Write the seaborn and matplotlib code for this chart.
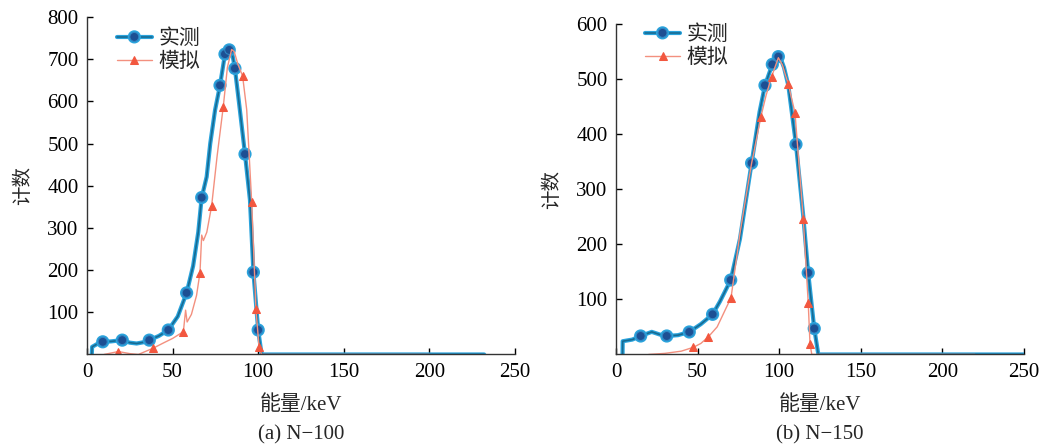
import matplotlib
matplotlib.use("Agg")
import matplotlib.pyplot as plt
import matplotlib.patheffects as pe
import seaborn as sns
import pandas as pd

# ---- N-100 spectrum ----
n100_meas_energy = [2.8, 3, 6, 9.2, 14, 20.6, 25, 29, 33, 36.4, 42, 47.5, 53, 58.2, 62, 65,
                    67, 69.9, 72, 74.8, 77.7, 80.6, 83.1, 84.2, 86.4, 89, 92.3, 95.2, 97.2,
                    100, 102, 110, 150, 200, 232]
n100_meas_count = [0, 18, 25, 30, 31, 34, 28, 26, 29, 34, 44, 58, 90, 146, 210, 290,
                   372, 421, 500, 579, 638, 712, 722, 728, 678, 590, 475, 366, 195,
                   58, 0, 0, 0, 0, 0]
n100_meas_marks = [3, 5, 9, 11, 13, 16, 20, 21, 22, 24, 26, 28, 29]

n100_sim_energy = [10, 18.3, 25, 30, 38.7, 45, 50, 56.3, 57.6, 58.5, 61, 64, 66, 67, 68,
                   70, 72.8, 76, 79.6, 82, 84.5, 86, 88, 90.9, 93.3, 96.2, 98.7, 100.5,
                   102, 110, 150, 200]
n100_sim_count = [0, 7, 2, 0, 15, 28, 38, 54, 105, 77, 95, 140, 194, 283, 270,
                  290, 352, 470, 587, 680, 723, 718, 690, 660, 580, 362, 107, 18,
                  0, 0, 0, 0]
n100_sim_marks = [1, 4, 7, 12, 16, 18, 23, 25, 26, 27]

# ---- N-150 spectrum ----
n150_meas_energy = [4, 4.1, 10, 15.1, 21.9, 27, 31.1, 38, 44.9, 52, 59.2, 63.7, 70.3, 76,
                    83.1, 88, 91.3, 95.8, 99.5, 101, 103, 105.6, 110.3, 114.8, 117.8,
                    121.5, 124, 130, 200, 250]
n150_meas_count = [0, 24, 27, 33.5, 41, 36, 33.5, 35, 40.8, 55, 72.8, 96, 135, 210,
                   347, 440, 488, 526, 540, 536, 520, 488, 381, 250, 148,
                   47, 0, 0, 0, 0]
n150_meas_marks = [3, 6, 8, 10, 12, 14, 16, 17, 18, 22, 24, 25]

n150_sim_energy = [20, 30, 40, 47.4, 52, 56.6, 62, 66, 70.5, 76, 83, 88.8, 92, 95.4, 99.5,
                   102, 105.6, 109.7, 114.8, 117.8, 118.9, 120, 130, 220]
n150_sim_count = [0, 2, 6, 13, 20, 32, 50, 75, 103, 220, 345, 431, 470, 504, 538,
                  525, 490, 438, 245, 94, 19, 0, 0, 0]
n150_sim_marks = [3, 5, 8, 11, 13, 16, 17, 18, 19, 20]

series_labels = ["实测", "模拟"]
x_ticks = [0, 50, 100, 150, 200, 250]
panel_captions = ["(a) N\u2212100", "(b) N\u2212150"]
x_label = "能量/keV"
y_label = "计数"

sns.set_theme(style="ticks")
plt.rcParams["font.family"] = ["Liberation Serif", "Noto Sans CJK SC", "DejaVu Sans"]
plt.rcParams["axes.unicode_minus"] = False

fig = plt.figure(figsize=(10.48, 4.47), dpi=100)
ax_a = fig.add_axes([0.083, 0.207, 0.4084, 0.755])
ax_b = fig.add_axes([0.5878, 0.207, 0.3892, 0.7403])

BLUE_LINE = "#2aa3dc"
BLUE_CORE = "#176b93"
BLUE_FACE = "#1d4f93"
RED_LINE = "#f3907f"
RED_MARK = "#f2573f"

panels = [
    (ax_a, n100_meas_energy, n100_meas_count, n100_meas_marks,
     n100_sim_energy, n100_sim_count, n100_sim_marks, 800, range(100, 801, 100), 1.0),
    (ax_b, n150_meas_energy, n150_meas_count, n150_meas_marks,
     n150_sim_energy, n150_sim_count, n150_sim_marks, 600, range(100, 601, 100), 1.032),
]

for i, (ax, me, mc, mm, se, sc, sm, ymax, yt, leg_y) in enumerate(panels):
    meas = pd.DataFrame({"energy": me, "count": mc})
    sim = pd.DataFrame({"energy": se, "count": sc})
    sns.lineplot(data=meas, x="energy", y="count", ax=ax, sort=False, estimator=None,
                 color=BLUE_CORE, linewidth=1.2, marker="o", markevery=mm,
                 markersize=6.5, markerfacecolor=BLUE_FACE, markeredgecolor="#2f86c4",
                 markeredgewidth=0.8, label=series_labels[0],
                 path_effects=[pe.Stroke(linewidth=3.0, foreground=BLUE_LINE), pe.Normal()])
    sns.lineplot(data=sim, x="energy", y="count", ax=ax, sort=False, estimator=None,
                 color=RED_LINE, linewidth=1.0, marker="^", markevery=sm,
                 markersize=6, markerfacecolor=RED_MARK, markeredgecolor=RED_MARK,
                 label=series_labels[1])

    ax.set_xlim(0, 250)
    ax.set_ylim(0, ymax)
    ax.set_xticks(x_ticks)
    ax.set_yticks(list(yt))
    ax.tick_params(direction="in", length=4, width=1, labelsize=15, colors="black",
                   pad=6)
    for s in ["top", "right"]:
        ax.spines[s].set_visible(False)
    for s in ["left", "bottom"]:
        ax.spines[s].set_color("#333333")
        ax.spines[s].set_linewidth(1.0)
    ax.set_xlabel(x_label, fontsize=15, labelpad=10)
    ax.set_ylabel(y_label, fontsize=14, labelpad=11)
    ax.grid(False)
    ax.legend(loc="upper left", bbox_to_anchor=(0.04, leg_y), frameon=False,
              fontsize=15, handlelength=1.7, handletextpad=0.3, labelspacing=0.15,
              borderaxespad=0.2)
    pos = ax.get_position()
    fig.text((pos.x0 + pos.x1) / 2, 0.027, panel_captions[i], ha="center", va="center",
             fontsize=15)

fig.savefig("out.png", dpi=100)
